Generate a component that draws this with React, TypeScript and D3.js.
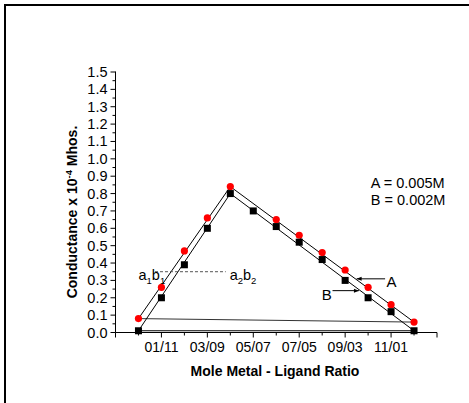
import React from "react";
import * as d3 from "d3";

// mole ratio index 0..12 (0/12 ... 12/0)
const ratioIdx = [0, 1, 2, 3, 4, 5, 6, 7, 8, 9, 10, 11, 12];
const tickLabels = ["01/11", "03/09", "05/07", "07/05", "09/03", "11/01"];
const tickIdx = [1, 3, 5, 7, 9, 11];
// series A = 0.005M (red circles), null where no point is drawn
const seriesA = [0.08, 0.26, 0.47, 0.66, 0.84, null, 0.65, 0.56, 0.46, 0.36, 0.26, 0.16, 0.06];
// series B = 0.002M (black squares)
const seriesB = [0.01, 0.2, 0.39, 0.6, 0.8, 0.7, 0.61, 0.52, 0.42, 0.3, 0.2, 0.12, 0.01];
const peakIdx = 4;

const W = 469;
const H = 403;
const font = "Arial, 'Liberation Sans', sans-serif";

export default function App() {
  const x = d3.scaleLinear().domain([-1, 13]).range([115.5, 437]);
  const y = d3.scaleLinear().domain([0, 1.5]).range([332.5, 72]);

  const majorY = d3.range(0, 16).map((i) => i / 10);
  const minorY = d3.range(0, 15).map((i) => i / 10 + 0.05);
  const majorX = d3.range(-1, 14, 2);
  const minorX = d3.range(0, 13, 2);

  const line = d3
    .line<[number, number]>()
    .x((d) => x(d[0]))
    .y((d) => y(d[1]));

  const last = ratioIdx.length - 1;
  // straight-line fits: rising branch, falling branch, base chord
  const aPath = line([
    [0, seriesA[0] as number],
    [peakIdx, seriesA[peakIdx] as number],
    [last, seriesA[last] as number],
  ]);
  const bPath = line([
    [0, seriesB[0]],
    [peakIdx, seriesB[peakIdx]],
    [last, seriesB[last]],
  ]);
  const aBase = line([
    [0, seriesA[0] as number],
    [last, seriesA[last] as number],
  ]);
  const bBase = line([
    [0, seriesB[0]],
    [last, seriesB[last]],
  ]);

  return (
    <svg width={W} height={H} style={{ position: "absolute", left: 0, top: 0, background: "#fff" }}>
      <defs>
        <marker id="arr" viewBox="0 0 10 10" refX="10" refY="5" markerWidth="7" markerHeight="5" orient="auto">
          <path d="M0,1 L10,5 L0,9 z" fill="#000" />
        </marker>
      </defs>
      {/* outer frame */}
      <line x1={5} y1={5} x2={W} y2={5} stroke="#000" strokeWidth={2} />
      <line x1={5} y1={4} x2={5} y2={H} stroke="#000" strokeWidth={2} />

      {/* y axis */}
      <line x1={x(-1)} y1={y(1.5) - 0.5} x2={x(-1)} y2={y(0)} stroke="#000" />
      {majorY.map((v) => (
        <g key={"my" + v}>
          <line x1={x(-1) - 5} x2={x(-1)} y1={y(v)} y2={y(v)} stroke="#000" />
          <text x={x(-1) - 8} y={y(v) + 5} textAnchor="end" fontSize={14.5} fontFamily={font} fill="#000">
            {v.toFixed(1)}
          </text>
        </g>
      ))}
      {minorY.map((v) => (
        <line key={"ny" + v} x1={x(-1) - 3} x2={x(-1)} y1={y(v)} y2={y(v)} stroke="#000" />
      ))}

      {/* x axis */}
      <line x1={x(-1)} y1={y(0)} x2={x(13)} y2={y(0)} stroke="#000" />
      {majorX.map((v) => (
        <line key={"mx" + v} x1={x(v)} x2={x(v)} y1={y(0)} y2={y(0) + 5} stroke="#000" />
      ))}
      {minorX.map((v) => (
        <line key={"nx" + v} x1={x(v)} x2={x(v)} y1={y(0)} y2={y(0) + 3} stroke="#000" />
      ))}
      {tickIdx.map((v, i) => (
        <text key={"tx" + v} x={x(v)} y={y(0) + 19} textAnchor="middle" fontSize={14} fontFamily={font} fill="#000">
          {tickLabels[i]}
        </text>
      ))}

      {/* axis titles */}
      <text x={275} y={376} textAnchor="middle" fontSize={14} fontWeight="bold" fontFamily={font} fill="#000">
        Mole Metal - Ligand Ratio
      </text>
      <text
        transform={`translate(77,212) rotate(-90)`}
        textAnchor="middle"
        fontSize={14}
        fontWeight="bold"
        fontFamily={font}
        fill="#000"
      >
        Conductance x 10<tspan dy={-5} fontSize={9.5}>-4</tspan>
        <tspan dy={5}> Mhos.</tspan>
      </text>

      {/* fitted lines */}
      <path d={aBase || ""} fill="none" stroke="#333" strokeWidth={1} />
      <path d={bBase || ""} fill="none" stroke="#000" strokeWidth={1} />
      <path d={aPath || ""} fill="none" stroke="#000" strokeWidth={1} />
      <path d={bPath || ""} fill="none" stroke="#000" strokeWidth={1} />

      {/* points */}
      {ratioIdx.map((r, i) =>
        seriesA[i] == null ? null : (
          <circle key={"a" + r} cx={x(r)} cy={y(seriesA[i] as number)} r={3.6} fill="#ff0000" />
        )
      )}
      {ratioIdx.map((r, i) => (
        <rect key={"b" + r} x={x(r) - 3.5} y={y(seriesB[i]) - 3.5} width={7} height={7} fill="#000" />
      ))}

      {/* a1b1 - a2b2 dashed */}
      <line x1={x(0.72)} x2={x(3.8)} y1={y(0.35)} y2={y(0.35)} stroke="#555" strokeDasharray="3,2" />
      <text x={x(0)} y={y(0.3)} fontSize={14.5} fontFamily={font} fill="#000">
        a<tspan dy={4} fontSize={9.5}>1</tspan>
        <tspan dy={-4}>b</tspan>
        <tspan dy={4} fontSize={9.5}>1</tspan>
      </text>
      <text x={x(3.97)} y={y(0.3)} fontSize={14.5} fontFamily={font} fill="#000">
        a<tspan dy={4} fontSize={9.5}>2</tspan>
        <tspan dy={-4}>b</tspan>
        <tspan dy={4} fontSize={9.5}>2</tspan>
      </text>

      {/* arrows */}
      <line x1={x(10.74)} x2={x(9.5)} y1={y(0.309)} y2={y(0.309)} stroke="#000" markerEnd="url(#arr)" />
      <text x={x(10.8)} y={y(0.263)} fontSize={15} fontFamily={font} fill="#000">A</text>
      <line x1={x(8.45)} x2={x(9.6)} y1={y(0.241)} y2={y(0.241)} stroke="#000" markerEnd="url(#arr)" />
      <text x={x(7.98)} y={y(0.187)} fontSize={15} fontFamily={font} fill="#000">B</text>

      {/* legend text */}
      <text x={x(10.12)} y={y(0.834)} fontSize={14.5} fontFamily={font} fill="#000">A = 0.005M</text>
      <text x={x(10.12)} y={y(0.736)} fontSize={14.5} fontFamily={font} fill="#000">B = 0.002M</text>
    </svg>
  );
}
